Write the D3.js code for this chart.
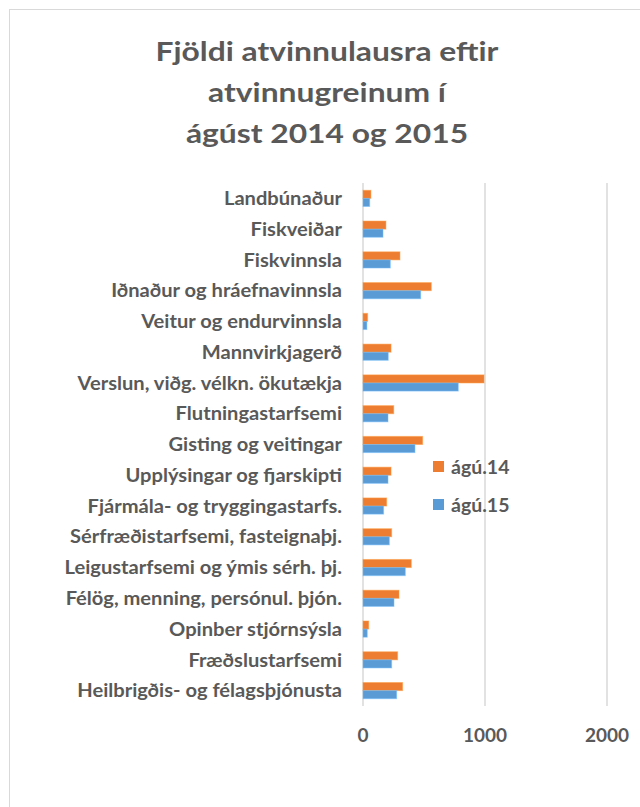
<!DOCTYPE html>
<html>
<head>
<meta charset="utf-8">
<script src="https://cdn.jsdelivr.net/npm/d3@7"></script>
<style>
  body { margin: 0; background: #fff; }
  svg { display: block; }
  text { font-family: Lato, "Open Sans", sans-serif; font-weight: bold; fill: #595959; }
</style>
</head>
<body>
<div id="chart"></div>
<script>
// Categories, top to bottom
const categories = [
  "Landbúnaður",
  "Fiskveiðar",
  "Fiskvinnsla",
  "Iðnaður og hráefnavinnsla",
  "Veitur og endurvinnsla",
  "Mannvirkjagerð",
  "Verslun, viðg. vélkn. ökutækja",
  "Flutningastarfsemi",
  "Gisting og veitingar",
  "Upplýsingar og fjarskipti",
  "Fjármála- og tryggingastarfs.",
  "Sérfræðistarfsemi, fasteignaþj.",
  "Leigustarfsemi og ýmis sérh. þj.",
  "Félög, menning, persónul. þjón.",
  "Opinber stjórnsýsla",
  "Fræðslustarfsemi",
  "Heilbrigðis- og félagsþjónusta"
];

// Values
const aug14 = [65, 188, 303, 560, 38, 230, 992, 252, 489, 230, 194, 235, 396, 295, 47, 284, 325];
const aug15 = [55, 164, 224, 473, 32, 207, 781, 205, 426, 205, 169, 216, 347, 254, 35, 235, 276];

const seriesNames = ["ágú.14", "ágú.15"];
const seriesColors = ["#ED7D31", "#5B9BD5"];
const xTicks = [0, 1000, 2000];
const titleLines = ["Fjöldi atvinnulausra eftir", "atvinnugreinum í", "ágúst 2014 og 2015"];

const width = 640, height = 807;
const plot = { left: 363, right: 607, top: 183, bottom: 706 };

const svg = d3.select("#chart").append("svg")
  .attr("width", width)
  .attr("height", height);

// stretch a group of texts horizontally so the first one gets the wanted width
function stretch(sel, wanted, anchorX) {
  const w = sel.node().getComputedTextLength();
  const k = wanted / w;
  sel.attr("transform", `translate(${anchorX},0) scale(${k},1) translate(${-anchorX},0)`);
}

// Chart frame (runs off the right and bottom edges)
svg.append("rect")
  .attr("x", 9.5).attr("y", 9.5)
  .attr("width", 800).attr("height", 900)
  .attr("fill", "none")
  .attr("stroke", "#d9d9d9")
  .attr("stroke-width", 1);

// Title
const title = svg.append("g").selectAll("text")
  .data(titleLines)
  .enter().append("text")
  .attr("x", 327)
  .attr("y", (d, i) => 61 + i * 41)
  .attr("text-anchor", "middle")
  .style("font-size", "27px")
  .text(d => d);
stretch(title, 343, 327);

const x = d3.scaleLinear().domain([0, 2000]).range([plot.left, plot.right]);
const y = d3.scaleBand().domain(categories).range([plot.top, plot.bottom]);
const inner = d3.scaleBand().domain([0, 1])
  .range([0, y.bandwidth()]).paddingOuter(0.9);

// Gridlines
svg.append("g").selectAll("line")
  .data(xTicks)
  .enter().append("line")
  .attr("x1", d => x(d)).attr("x2", d => x(d))
  .attr("y1", plot.top).attr("y2", plot.bottom)
  .attr("stroke", "#d9d9d9")
  .attr("stroke-width", 1.5);

// Tick labels
svg.append("g").selectAll("text")
  .data(xTicks)
  .enter().append("text")
  .attr("x", d => x(d))
  .attr("y", 742)
  .attr("text-anchor", "middle")
  .style("font-size", "19px")
  .text(d => d);

// Category labels
const labels = svg.append("g").selectAll("text")
  .data(categories)
  .enter().append("text")
  .attr("x", 342)
  .attr("y", d => y(d) + y.bandwidth() / 2)
  .attr("dy", "0.36em")
  .attr("text-anchor", "end")
  .style("font-size", "18.5px")
  .text(d => d);
stretch(labels.filter(d => d === "Heilbrigðis- og félagsþjónusta"), 265, 342);
labels.attr("transform", labels.filter(d => d === "Heilbrigðis- og félagsþjónusta").attr("transform"));

// Bars
const series = [aug14, aug15];
series.forEach((vals, si) => {
  svg.append("g").selectAll("rect")
    .data(vals)
    .enter().append("rect")
    .attr("x", x(0))
    .attr("y", (d, i) => y(categories[i]) + inner(si))
    .attr("width", d => x(d) - x(0))
    .attr("height", inner.bandwidth())
    .attr("fill", seriesColors[si])
    .attr("stroke", d3.color(seriesColors[si]).brighter(0.6))
    .attr("stroke-opacity", 0.5)
    .attr("stroke-width", 1);
});

// Legend
const legend = svg.append("g").selectAll("g")
  .data(seriesNames)
  .enter().append("g")
  .attr("transform", (d, i) => `translate(433, ${461 + i * 38})`);

legend.append("rect")
  .attr("width", 11).attr("height", 11)
  .attr("fill", (d, i) => seriesColors[i]);

legend.append("text")
  .attr("x", 18)
  .attr("y", 13)
  .style("font-size", "19.5px")
  .text(d => d);
</script>
</body>
</html>
